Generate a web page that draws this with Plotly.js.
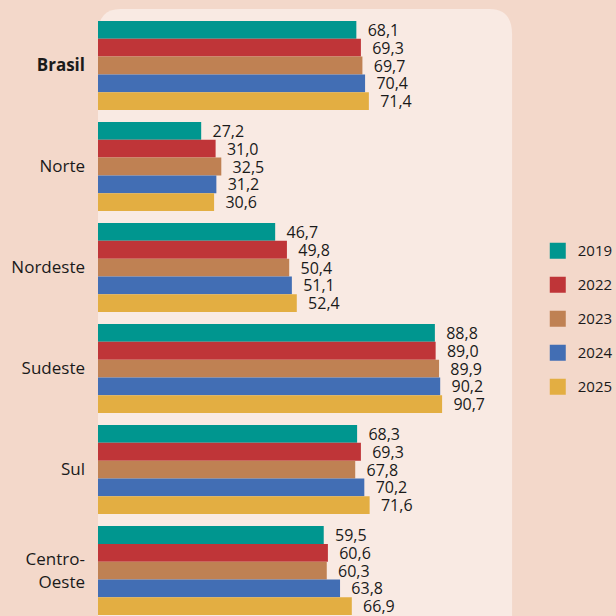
<!DOCTYPE html>
<html>
<head>
<meta charset="utf-8">
<script src="https://cdn.plot.ly/plotly-3.0.1.min.js"></script>
<style>html,body{margin:0;padding:0;background:#f3d8ca;}#chart{width:616px;height:616px;}</style>
</head>
<body>
<div id="chart"></div>
<script>
const regions = ['<b>Brasil</b>', 'Norte', 'Nordeste', 'Sudeste', 'Sul', 'Centro-<br>Oeste'];
const years = ['2019', '2022', '2023', '2024', '2025'];
const v2019 = [68.1, 27.2, 46.7, 88.8, 68.3, 59.5];
const v2022 = [69.3, 31.0, 49.8, 89.0, 69.3, 60.6];
const v2023 = [69.7, 32.5, 50.4, 89.9, 67.8, 60.3];
const v2024 = [70.4, 31.2, 51.1, 90.2, 70.2, 63.8];
const v2025 = [71.4, 30.6, 52.4, 90.7, 71.6, 66.9];
const seriesValues = [v2019, v2022, v2023, v2024, v2025];
const colors = ['#00968f', '#bf3538', '#bf8153', '#426eb4', '#e3ae42'];

const FONT = '"Open Sans", Lato, sans-serif';
const traces = [];
years.forEach((yr, i) => {
  traces.push({
    type: 'bar', orientation: 'h', name: yr,
    y: regions, x: seriesValues[i],
    marker: {color: colors[i], line: {width: 0}},
    texttemplate: '\u00a0\u00a0%{x:.1f}',
    textposition: 'outside', constraintext: 'none', cliponaxis: false,
    textfont: {family: FONT, size: 16, color: '#1a1a1a'},
    showlegend: false, hoverinfo: 'skip'
  });
});
years.forEach((yr, i) => {
  traces.push({
    type: 'scatter', mode: 'markers', name: yr,
    x: [null], y: [null],
    marker: {symbol: 'square', size: 19, color: colors[i]},
    legendgroup: 'g' + i, showlegend: true, hoverinfo: 'skip'
  });
});

const layout = {
  width: 616, height: 616,
  paper_bgcolor: '#f3d8ca', plot_bgcolor: 'rgba(0,0,0,0)',
  margin: {l: 98, r: 106, t: 15, b: 0, autoexpand: false},
  barmode: 'group', bargap: 0.12, bargroupgap: 0,
  separators: ',.',
  font: {family: FONT, color: '#1a1a1a'},
  xaxis: {range: [0, 108.6], visible: false, fixedrange: true},
  yaxis: {
    type: 'category', range: [5.45, -0.5], autorange: false,
    showgrid: false, zeroline: false, showline: false, ticks: '',
    ticklabelstandoff: 12,
    tickfont: {family: FONT, size: 17, color: '#1a1a1a'}
  },
  legend: {
    xref: 'container', yref: 'container',
    x: 0.873, xanchor: 'left', y: 0.6195, yanchor: 'top',
    font: {family: FONT, size: 15, color: '#1a1a1a'},
    itemsizing: 'trace', tracegroupgap: 11.5, bgcolor: 'rgba(0,0,0,0)'
  },
  shapes: [{
    type: 'path', xref: 'paper', yref: 'paper', layer: 'below',
    path: 'M 0,-0.1 L 0,0.968 Q 0,1.01 0.055,1.01 L 0.95,1.01 Q 1.005,1.01 1.005,0.968 L 1.005,-0.1 Z',
    fillcolor: '#f9eae3', line: {width: 0}
  }],
  showlegend: true
};

Plotly.newPlot('chart', traces, layout, {displayModeBar: false, staticPlot: true});
</script>
</body>
</html>
